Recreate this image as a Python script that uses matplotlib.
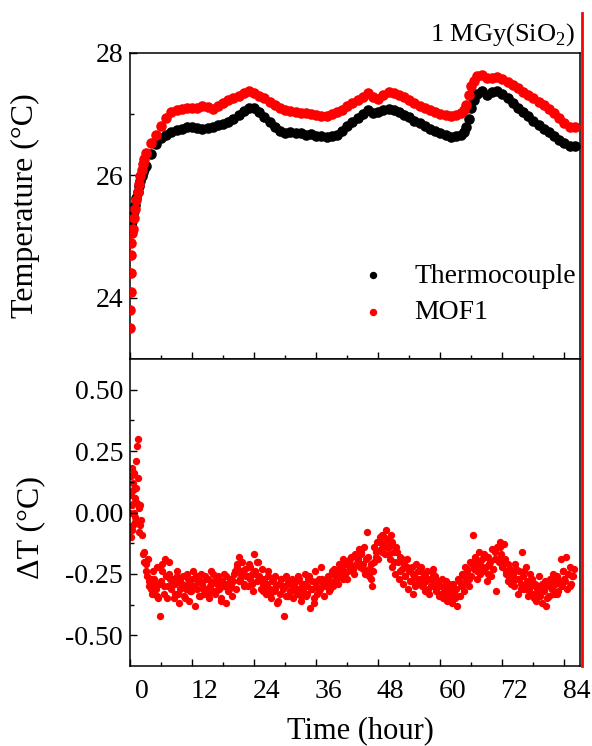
import numpy as np
import matplotlib
matplotlib.use('Agg')
import matplotlib.pyplot as plt
from matplotlib.lines import Line2D
from matplotlib.transforms import ScaledTranslation

plt.rcParams['font.family'] = ['Liberation Serif', 'DejaVu Serif']
plt.rcParams['mathtext.fontset'] = 'custom'
plt.rcParams['mathtext.rm'] = 'Liberation Serif'

# ---- top panel: temperature (deg C) ----
# first 3 hours sampled finer, then hourly
t_early = [0, 0.05, 0.1, 0.15, 0.2, 0.25, 0.3, 0.4, 0.5, 0.75, 1.0, 1.25, 1.5, 1.75,
           2.0, 2.25, 2.5, 2.75]
tc_early = [25.10, 25.12, 25.15, 25.17, 25.20, 25.22, 25.25, 25.28, 25.32, 25.42,
            25.52, 25.62, 25.72, 25.82, 25.90, 25.98, 26.05, 26.10]
mof_early = [23.50, 23.80, 24.10, 24.40, 24.70, 24.90, 25.05, 25.10, 25.12, 25.30,
             25.45, 25.60, 25.72, 25.85, 25.98, 26.08, 26.18, 26.27]

t_hour = np.arange(3, 87)
tc_hour = [26.15, 26.35, 26.50, 26.60, 26.66, 26.70, 26.73, 26.76, 26.78,
           26.78, 26.77, 26.76, 26.77, 26.79, 26.81, 26.84, 26.87, 26.92, 26.98,
           27.05, 27.09, 27.10, 27.03, 26.95, 26.87, 26.79, 26.72, 26.68, 26.70,
           26.68, 26.69, 26.66, 26.67, 26.64, 26.63, 26.62, 26.63, 26.66, 26.72,
           26.80, 26.87, 26.93, 27.00, 27.06, 27.01, 27.03, 27.06, 27.08, 27.07,
           27.03, 26.98, 26.94, 26.89, 26.85, 26.80, 26.76, 26.72, 26.68, 26.65,
           26.62, 26.63, 26.66, 26.78, 27.10, 27.33, 27.37, 27.30, 27.35, 27.38,
           27.33, 27.25, 27.18, 27.10, 27.03, 26.96, 26.89, 26.82, 26.76, 26.70,
           26.63, 26.57, 26.52, 26.47, 26.48]
mof_hour = [26.36, 26.52, 26.65, 26.80, 26.93, 27.03, 27.07, 27.08, 27.09,
            27.10, 27.10, 27.12, 27.11, 27.08, 27.12, 27.18, 27.23, 27.26, 27.29,
            27.34, 27.38, 27.34, 27.29, 27.25, 27.20, 27.15, 27.10, 27.07, 27.05,
            27.03, 27.02, 27.01, 27.00, 26.98, 26.97, 26.96, 26.99, 27.03, 27.07,
            27.12, 27.17, 27.22, 27.28, 27.34, 27.28, 27.24, 27.30, 27.35, 27.34,
            27.31, 27.27, 27.22, 27.17, 27.13, 27.09, 27.06, 27.03, 27.00, 26.98,
            26.97, 26.98, 27.02, 27.15, 27.45, 27.62, 27.63, 27.58, 27.58, 27.60,
            27.57, 27.52, 27.47, 27.42, 27.36, 27.30, 27.25, 27.20, 27.14, 27.08,
            27.02, 26.93, 26.85, 26.78, 26.78]

# extra readings on the fast rise near 65 h
t_jump = [64.5, 65.5, 66.5]
tc_jump = [26.70, 26.92, 27.22]
mof_jump = [27.07, 27.30, 27.54]

# ---- bottom panel: delta T ----
dt_t_early = [0, 0.05, 0.1, 0.2, 0.25, 0.3, 0.4, 0.45, 0.5, 0.6, 0.65, 0.7, 0.8,
              0.85, 0.9, 1.0, 1.05, 1.1, 1.2, 1.3, 1.4, 1.5, 1.6, 1.7, 1.8, 1.9]
dt_early = [0.08, 0.00, -0.10, 0.15, 0.07, 0.03, 0.18, -0.07, -0.05, 0.12, 0.09,
            0.00, 0.16, 0.04, 0.06, -0.02, -0.04, 0.10, 0.21, 0.27, 0.04, 0.14,
            0.30, 0.02, -0.08, 0.03]

dt_t = np.arange(2.0, 86.0, 0.25)
dt_vals = [
    -0.05, -0.09, -0.17, -0.16, -0.21, -0.26, -0.19, -0.30, -0.27, -0.33, -0.24, -0.29,
    -0.31, -0.22, -0.35, -0.42, -0.28, -0.21, -0.33, -0.19, -0.26, -0.30, -0.20, -0.27,
    -0.31, -0.27, -0.35, -0.29, -0.24, -0.33, -0.37, -0.28, -0.30, -0.26, -0.34, -0.31,
    -0.25, -0.29, -0.36, -0.32, -0.27, -0.30, -0.38, -0.26, -0.31, -0.34, -0.28, -0.25,
    -0.29, -0.33, -0.26, -0.31, -0.27, -0.35, -0.30, -0.24, -0.32, -0.28, -0.33, -0.29,
    -0.26, -0.31, -0.36, -0.28, -0.30, -0.25, -0.37, -0.29, -0.32, -0.27, -0.30, -0.34,
    -0.28, -0.24, -0.31, -0.22, -0.18, -0.27, -0.25, -0.20, -0.29, -0.23, -0.26, -0.30,
    -0.21, -0.27, -0.25, -0.32, -0.17, -0.24, -0.28, -0.20, -0.26, -0.31, -0.23, -0.29,
    -0.27, -0.33, -0.29, -0.24, -0.31, -0.35, -0.28, -0.32, -0.26, -0.30, -0.37, -0.29,
    -0.33, -0.27, -0.31, -0.42, -0.30, -0.26, -0.34, -0.29, -0.32, -0.27, -0.35, -0.30,
    -0.28, -0.33, -0.26, -0.31, -0.36, -0.29, -0.32, -0.25, -0.34, -0.30, -0.27, -0.39,
    -0.31, -0.28, -0.35, -0.24, -0.30, -0.33, -0.27, -0.31, -0.22, -0.29, -0.34, -0.28,
    -0.30, -0.26, -0.32, -0.28, -0.25, -0.30, -0.23, -0.27, -0.24, -0.29, -0.21, -0.26,
    -0.23, -0.19, -0.25, -0.21, -0.27, -0.20, -0.23, -0.18, -0.22, -0.25, -0.17, -0.21,
    -0.19, -0.15, -0.22, -0.17, -0.21, -0.14, -0.25, -0.08, -0.18, -0.23, -0.27, -0.30,
    -0.24, -0.20, -0.16, -0.12, -0.19, -0.10, -0.15, -0.09, -0.13, -0.17, -0.07, -0.11,
    -0.14, -0.19, -0.09, -0.22, -0.16, -0.25, -0.14, -0.20, -0.27, -0.18, -0.23, -0.29,
    -0.21, -0.26, -0.19, -0.31, -0.24, -0.28, -0.22, -0.33, -0.26, -0.21, -0.29, -0.24,
    -0.27, -0.22, -0.30, -0.25, -0.32, -0.28, -0.24, -0.33, -0.27, -0.30, -0.23, -0.29,
    -0.26, -0.31, -0.28, -0.34, -0.30, -0.27, -0.35, -0.31, -0.28, -0.36, -0.32, -0.29,
    -0.33, -0.37, -0.29, -0.35, -0.31, -0.38, -0.27, -0.34, -0.30, -0.25, -0.32, -0.22,
    -0.28, -0.24, -0.30, -0.20, -0.26, -0.09, -0.23, -0.18, -0.27, -0.21, -0.16, -0.25,
    -0.19, -0.24, -0.17, -0.22, -0.28, -0.18, -0.21, -0.26, -0.15, -0.23, -0.19, -0.32,
    -0.14, -0.20, -0.12, -0.17, -0.22, -0.13, -0.19, -0.25, -0.21, -0.27, -0.23, -0.29,
    -0.25, -0.30, -0.21, -0.27, -0.33, -0.24, -0.29, -0.16, -0.26, -0.31, -0.22, -0.28,
    -0.34, -0.25, -0.30, -0.27, -0.33, -0.29, -0.36, -0.31, -0.26, -0.34, -0.30, -0.37,
    -0.32, -0.28, -0.38, -0.30, -0.34, -0.27, -0.31, -0.25, -0.33, -0.29, -0.26, -0.32,
    -0.28, -0.19, -0.30, -0.24, -0.27, -0.18, -0.31, -0.25, -0.22, -0.29, -0.26, -0.23,
]

# second set of readings, half-hourly, in between the ones above
dt_t2 = np.arange(2.125, 86.0, 0.5)
dt_vals2 = [
    -0.03, -0.20, -0.24, -0.28, -0.31, -0.27, -0.34, -0.29, -0.24, -0.30, -0.35, -0.25,
    -0.28, -0.33, -0.26, -0.31, -0.29, -0.35, -0.27, -0.32, -0.24, -0.30, -0.28, -0.34,
    -0.31, -0.27, -0.33, -0.29, -0.25, -0.32, -0.28, -0.35, -0.30, -0.26, -0.31, -0.28,
    -0.25, -0.21, -0.28, -0.24, -0.30, -0.26, -0.22, -0.29, -0.25, -0.20, -0.27, -0.32,
    -0.30, -0.26, -0.33, -0.28, -0.31, -0.36, -0.27, -0.30, -0.34, -0.28, -0.32, -0.29,
    -0.31, -0.27, -0.34, -0.29, -0.33, -0.26, -0.31, -0.37, -0.28, -0.32, -0.27, -0.30,
    -0.27, -0.31, -0.24, -0.28, -0.26, -0.22, -0.27, -0.21, -0.24, -0.19, -0.23, -0.18,
    -0.20, -0.16, -0.23, -0.19, -0.26, -0.21, -0.14, -0.18, -0.12, -0.16, -0.10, -0.14,
    -0.17, -0.12, -0.20, -0.16, -0.24, -0.19, -0.26, -0.22, -0.28, -0.25, -0.30, -0.27,
    -0.24, -0.29, -0.26, -0.31, -0.27, -0.25, -0.32, -0.28, -0.33, -0.30, -0.34, -0.31,
    -0.35, -0.31, -0.34, -0.28, -0.30, -0.26, -0.23, -0.27, -0.21, -0.19, -0.24, -0.20,
    -0.22, -0.18, -0.25, -0.20, -0.23, -0.16, -0.19, -0.14, -0.21, -0.24, -0.28, -0.25,
    -0.28, -0.23, -0.27, -0.31, -0.24, -0.29, -0.32, -0.27, -0.35, -0.30, -0.33, -0.29,
    -0.30, -0.35, -0.28, -0.31, -0.27, -0.33, -0.29, -0.24, -0.28, -0.25, -0.30, -0.26,
]

x_ticks = [0, 12, 24, 36, 48, 60, 72, 84]
dose_label = r'1 MGy(SiO$_\mathrm{2}$)'

fig = plt.figure(figsize=(5.92, 7.46), dpi=100)
L, R = 0.2196, 0.9797
ax1 = fig.add_axes([L, 0.5188, R - L, 0.9296 - 0.5188])
ax2 = fig.add_axes([L, 0.1072, R - L, 0.5188 - 0.1072], sharex=ax1)

ms_top = 58
for tt, yy in ((t_early, tc_early), (t_jump, tc_jump)):
    ax1.scatter(tt, yy, s=ms_top, color='black', lw=0, zorder=3)
ax1.scatter(t_hour, tc_hour, s=ms_top, color='black', lw=0, zorder=3, label='Thermocouple')
for tt, yy in ((t_early, mof_early), (t_jump, mof_jump)):
    ax1.scatter(tt, yy, s=ms_top, color='red', lw=0, zorder=3)
ax1.scatter(t_hour, mof_hour, s=ms_top, color='red', lw=0, zorder=3, label='MOF1')

ms_bot = 28
ax2.scatter(dt_t_early, dt_early, s=ms_bot, color='red', lw=0)
ax2.scatter(dt_t, dt_vals, s=ms_bot, color='red', lw=0)
ax2.scatter(dt_t2, dt_vals2, s=ms_bot, color='red', lw=0)

ax1.set_xlim(0, 87)
ax1.set_ylim(23, 28)
ax1.set_yticks([24, 26, 28])
ax1.set_yticks([25, 27], minor=True)
ax2.set_ylim(-0.625, 0.625)
ax2.set_yticks([-0.5, -0.25, 0, 0.25, 0.5])
ax2.set_yticks([-0.375, -0.125, 0.125, 0.375], minor=True)
ax2.set_yticklabels(['-0.50', '-0.25', '0.00', '0.25', '0.50'])
ax2.set_xticks(x_ticks)
ax2.set_xticks([6, 18, 30, 42, 54, 66, 78], minor=True)

for ax in (ax1, ax2):
    for sp in ax.spines.values():
        sp.set_linewidth(1.1)
    ax.tick_params(which='both', direction='in', top=False, right=False,
                   width=1.0, labelsize=20)
    ax.tick_params(which='major', length=5)
    ax.tick_params(which='minor', length=3)
    ax.tick_params(axis='y', pad=5)
ax1.tick_params(axis='x', labelbottom=False)
ax2.tick_params(axis='x', pad=9)

# tick labels in the original sit a bit right of their ticks
shift = ScaledTranslation(12 / 100, 0, fig.dpi_scale_trans)
for lab in ax2.get_xticklabels():
    lab.set_transform(lab.get_transform() + shift)

ax1.set_ylabel('Temperature (°C)', fontsize=23)
ax1.yaxis.set_label_coords(-0.20, 0.5)
ax2.set_ylabel('ΔT (°C)', fontsize=23)
ax2.yaxis.set_label_coords(-0.189, 0.45)
ax2.set_xlabel('Time (hour)', fontsize=22)
ax2.xaxis.set_label_coords(0.511, -0.21)
ax2.xaxis.label.set_va('center')

ax1.legend(loc='lower right', bbox_to_anchor=(0.991, 0.11), frameon=False,
           fontsize=20, handlelength=1.0, handletextpad=1.0, labelspacing=0.4,
           borderaxespad=0, borderpad=0, scatterpoints=1, markerscale=0.7)

# red marker line at the right edge, running up past the top panel
fig.add_artist(Line2D([0.983, 0.983], [0.1072, 0.983], transform=fig.transFigure,
                      color='red', lw=2))
fig.text(0.972, 0.946, dose_label, ha='right', va='baseline', fontsize=19)

plt.savefig('out.png', dpi=100)
